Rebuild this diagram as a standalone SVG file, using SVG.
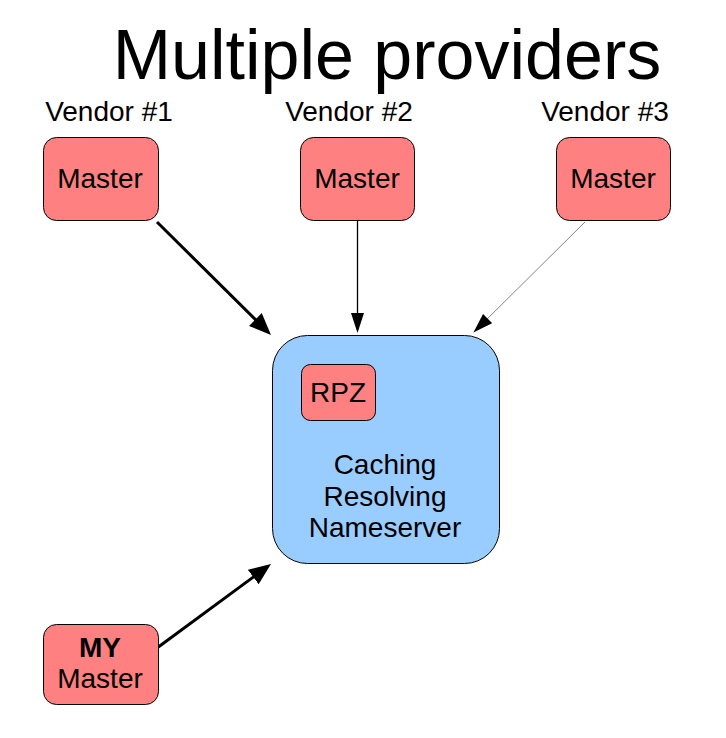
<svg xmlns="http://www.w3.org/2000/svg" width="726" height="738" viewBox="0 0 726 738">
<style>
text{font-family:"Liberation Sans",Arial,sans-serif;fill:#000;}
.m{fill:#ff8080;stroke:#000;stroke-width:1;}
.b{fill:#99ccff;stroke:#000;stroke-width:1;}
.t{font-size:28px;text-anchor:middle;}
</style>
<defs>
<marker id="ah" markerUnits="userSpaceOnUse" markerWidth="24" markerHeight="20" refX="2" refY="9" orient="auto" viewBox="0 0 24 20"><path d="M0,0 L22,9 L0,18 z" fill="#000"/></marker>
<marker id="ahs" markerUnits="userSpaceOnUse" markerWidth="22" markerHeight="16" refX="2" refY="6.5" orient="auto" viewBox="0 0 22 16"><path d="M0,0 L20,6.5 L0,13 z" fill="#000"/></marker>
</defs>
<rect width="726" height="738" fill="#fff"/>
<text x="387" y="79" style="font-size:70px;text-anchor:middle">Multiple providers</text>
<text class="t" x="109" y="121">Vendor #1</text>
<text class="t" x="349" y="121">Vendor #2</text>
<text class="t" x="605" y="121">Vendor #3</text>
<g id="connectors">
<line x1="157" y1="222" x2="256.8" y2="320.9" stroke="#000" stroke-width="3" marker-end="url(#ah)"/>
<line x1="357.5" y1="221" x2="357.5" y2="315" stroke="#000" stroke-width="1.3" marker-end="url(#ahs)"/>
<line x1="585" y1="222" x2="486.2" y2="319.9" stroke="#666" stroke-width="0.8" marker-end="url(#ahs)"/>
<line x1="157" y1="648" x2="254.9" y2="575.9" stroke="#000" stroke-width="3" marker-end="url(#ah)"/>
</g>
<g id="vendor1">
<rect class="m" x="43.5" y="137.5" width="115" height="83" rx="13"/>
<text class="t" x="100" y="188">Master</text>
</g>
<g id="vendor2">
<rect class="m" x="300.5" y="137.5" width="114" height="83" rx="13"/>
<text class="t" x="357" y="188">Master</text>
</g>
<g id="vendor3">
<rect class="m" x="556.5" y="137.5" width="114" height="83" rx="13"/>
<text class="t" x="613" y="188">Master</text>
</g>
<g id="resolver">
<rect class="b" x="272.5" y="335.5" width="227" height="228" rx="35"/>
<text class="t" x="385" y="474">Caching</text>
<text class="t" x="385" y="506">Resolving</text>
<text class="t" x="385" y="537">Nameserver</text>
</g>
<g id="rpz">
<rect class="m" x="301.5" y="364.5" width="74" height="56" rx="9"/>
<text class="t" x="338" y="402">RPZ</text>
</g>
<g id="mymaster">
<rect class="m" x="43.5" y="624.5" width="115" height="80" rx="13"/>
<text class="t" x="100" y="657" style="font-weight:bold">MY</text>
<text class="t" x="100" y="688">Master</text>
</g>
</svg>
